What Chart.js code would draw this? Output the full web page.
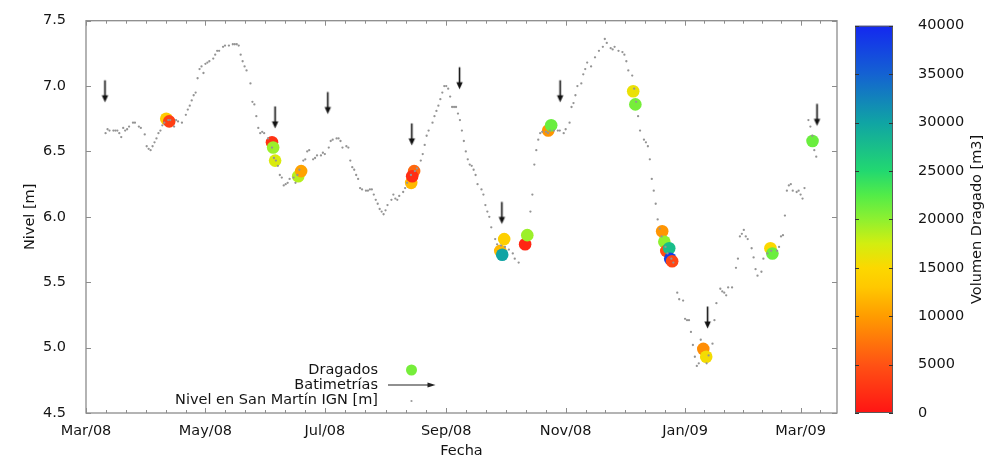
<!DOCTYPE html>
<html><head><meta charset="utf-8">
<script src="https://cdn.jsdelivr.net/npm/chart.js@4/dist/chart.umd.min.js"></script>
<style>
html,body{margin:0;padding:0;background:#fff;}
#wrap{position:relative;width:1006px;height:467px;overflow:hidden;}
#main{position:absolute;left:0;top:0;}
#cbar{position:absolute;left:840px;top:0;}
</style></head><body>
<div id="wrap"><canvas id="main" width="1006" height="467"></canvas><canvas id="cbar" width="166" height="467"></canvas></div>
<script>
// ---- DATA ----
// days counted from 1 Mar 2008
const levelDays = [10,11,12,14,15,16,17,18,19,20,21,22,24,25,27,28,30,31,32,33,34,35,36,37,38,39,40,42,43,45,46,47,49,51,52,53,54,55,56,57,58,59,60,61,62,63,65,66,67,68,70,71,73,75,76,77,78,79,80,81,82,84,85,86,87,88,89,90,91,93,95,96,97,98,99,100,101,102,103,104,106,107,108,109,111,112,113,114,116,117,118,120,121,122,124,125,126,128,129,130,131,133,134,135,136,137,138,139,140,141,143,144,145,146,147,148,149,150,151,152,153,154,156,157,158,159,160,162,163,164,166,168,169,171,172,173,174,175,177,178,179,180,181,182,183,184,185,186,187,188,189,190,191,192,193,194,195,196,197,198,199,200,202,203,204,205,206,207,209,210,212,214,216,218,219,221,227,228,229,230,231,232,233,235,236,237,239,241,242,244,245,247,248,249,250,251,253,254,255,256,258,260,262,264,265,266,268,269,270,272,274,275,276,277,279,280,281,282,283,285,286,287,288,289,290,291,292,293,294,296,297,299,300,302,303,305,306,307,308,309,310,311,312,313,314,317,318,320,321,322,324,325,326,327,328,330,332,333,334,335,336,337,338,340,341,342,343,345,346,348,350,353,354,355,356,357,358,359,360,361,363,364,365,366,367,369,370,371,372,373];
const levelValues = [6.64,6.67,6.66,6.66,6.66,6.66,6.64,6.61,6.68,6.66,6.67,6.69,6.72,6.72,6.69,6.68,6.63,6.54,6.52,6.51,6.54,6.57,6.60,6.64,6.66,6.70,6.72,6.74,6.74,6.69,6.74,6.73,6.72,6.78,6.82,6.85,6.89,6.93,6.95,7.06,7.13,7.15,7.10,7.17,7.18,7.19,7.21,7.24,7.27,7.27,7.30,7.31,7.31,7.32,7.32,7.32,7.31,7.24,7.19,7.15,7.12,7.02,6.88,6.86,6.77,6.68,6.64,6.65,6.64,6.60,6.53,6.45,6.43,6.39,6.32,6.30,6.24,6.25,6.26,6.29,6.30,6.26,6.32,6.36,6.43,6.44,6.50,6.51,6.44,6.45,6.47,6.47,6.49,6.48,6.53,6.58,6.59,6.60,6.60,6.58,6.53,6.54,6.53,6.43,6.38,6.36,6.32,6.29,6.22,6.21,6.20,6.20,6.21,6.21,6.17,6.13,6.10,6.06,6.04,6.02,6.05,6.09,6.13,6.17,6.14,6.13,6.16,6.19,6.22,6.26,6.32,6.35,6.37,6.43,6.48,6.55,6.62,6.66,6.72,6.77,6.81,6.85,6.90,6.95,7.00,7.00,6.98,6.92,6.84,6.84,6.84,6.79,6.74,6.66,6.58,6.50,6.44,6.40,6.39,6.36,6.32,6.25,6.21,6.17,6.09,6.04,6.00,5.92,5.83,5.79,5.78,5.77,5.75,5.72,5.68,5.65,6.04,6.17,6.40,6.51,6.59,6.64,6.65,6.65,6.64,6.66,6.66,6.66,6.66,6.64,6.67,6.72,6.84,6.87,6.93,7.00,7.02,7.09,7.13,7.18,7.15,7.22,7.27,7.30,7.36,7.33,7.29,7.28,7.30,7.27,7.26,7.24,7.19,7.12,7.08,6.98,6.88,6.77,6.66,6.59,6.57,6.54,6.44,6.29,6.20,6.10,5.98,5.91,5.85,5.77,5.72,5.68,5.65,5.42,5.37,5.36,5.22,5.21,5.21,5.12,5.02,4.93,4.86,4.88,5.06,4.88,4.94,5.03,5.21,5.34,5.45,5.43,5.42,5.40,5.46,5.46,5.61,5.68,5.85,5.87,5.90,5.85,5.83,5.76,5.69,5.60,5.55,5.58,5.68,5.72,5.74,5.74,5.77,5.85,5.86,6.01,6.20,6.24,6.25,6.20,6.19,6.20,6.17,6.14,6.22,6.74,6.69,6.62,6.51,6.46];

const dragDays    = [41, 42.5, 95, 95.6, 96.6, 108.4, 109.9, 166.1, 167.6, 166.6, 211.6, 212.6, 213.6, 224.3, 225.4, 236.1, 237.6, 279.5, 280.6, 294.3, 295.4, 296.4, 297.9, 298.4, 299.4, 315.3, 316.8, 349.6, 350.6, 371.1];
const dragLevels  = [6.75, 6.73, 6.57, 6.53, 6.43, 6.31, 6.35, 6.26, 6.35, 6.31, 5.74, 5.71, 5.83, 5.79, 5.86, 6.66, 6.70, 6.96, 6.86, 5.89, 5.81, 5.74, 5.76, 5.68, 5.66, 4.99, 4.93, 5.76, 5.72, 6.58];
const dragVolumes = [13500, 3500, 2500, 19500, 17000, 18500, 10500, 12000, 6500, 2000, 12000, 30000, 14000, 1500, 19500, 9500, 21500, 16000, 21000, 9500, 20000, 4500, 27500, 38000, 4000, 9000, 15500, 15000, 21500, 21500];

const batDays = [9.7, 96.6, 123.5, 166.4, 190.8, 212.4, 242.2, 317.5, 373.4];
const batTips = [6.88, 6.68, 6.79, 6.55, 6.98, 5.95, 6.88, 5.15, 6.70];

const xMajorDays   = [0, 61, 122, 184, 245, 306, 365];
const xMajorLabels = ['Mar/08','May/08','Jul/08','Sep/08','Nov/08','Jan/09','Mar/09'];
const xMax = 383.6;
const yTickValues = [4.5, 5.0, 5.5, 6.0, 6.5, 7.0, 7.5];

const cbMax = 40000;
const cbStep = 5000;
const cbStops = [[0,'#ff1414'],[5000,'#ff5214'],[10000,'#ff9c00'],[13000,'#ffc800'],[15000,'#fcd800'],[17500,'#d2ee10'],[20000,'#8ef030'],[22500,'#52ec48'],[25000,'#22d870'],[30000,'#10a4a4'],[35000,'#1462d2'],[40000,'#1428f0']];

// ---- helpers ----
const FONT = "'DejaVu Sans', sans-serif";
const FS = 14.5;
const TXT = '#141414';
Chart.defaults.font.family = FONT;
Chart.defaults.font.size = FS;
Chart.defaults.color = TXT;

function hex2rgb(h){return [parseInt(h.substr(1,2),16),parseInt(h.substr(3,2),16),parseInt(h.substr(5,2),16)];}
function volColor(v){
  for(let i=0;i<cbStops.length-1;i++){
    const [v0,c0]=cbStops[i],[v1,c1]=cbStops[i+1];
    if(v<=v1){const t=(v-v0)/(v1-v0);const a=hex2rgb(c0),b=hex2rgb(c1);
      return 'rgb('+a.map((x,k)=>Math.round(x+(b[k]-x)*t)).join(',')+')';}
  }
  return cbStops[cbStops.length-1][1];
}

// x tick values: majors + 5 minor subdivisions between
const xTickValues = [];
for(let i=0;i<xMajorDays.length;i++){
  xTickValues.push(xMajorDays[i]);
  if(i<xMajorDays.length-1){
    const s=(xMajorDays[i+1]-xMajorDays[i])/6;
    for(let k=1;k<6;k++) xTickValues.push(xMajorDays[i]+s*k);
  }
}
xTickValues.push(365 + 59/6);

// arrow image (tip at center)
function makeArrow(){
  const c=document.createElement('canvas'); c.width=9; c.height=46;
  const g=c.getContext('2d');
  g.strokeStyle='#111'; g.lineWidth=1.6;
  g.beginPath(); g.moveTo(4.5,1.5); g.lineTo(4.5,18); g.stroke();
  g.fillStyle='#111'; g.beginPath(); g.moveTo(1.3,16.5); g.lineTo(7.7,16.5); g.lineTo(4.5,23.5); g.closePath(); g.fill();
  return c;
}
const arrowImg = makeArrow();

const framePlugin = {
  id:'frame',
  beforeDatasetsDraw(chart){
    const {ctx, chartArea:a, scales:{x,y}} = chart;
    ctx.save();
    ctx.strokeStyle='#8c8c8c'; ctx.lineWidth=1.3;
    ctx.strokeRect(a.left, a.top, a.right-a.left, a.bottom-a.top);
    ctx.lineWidth=1;
    ctx.beginPath();
    x.ticks.forEach(t=>{
      const px=Math.round(x.getPixelForValue(t.value))+0.5;
      const len = xMajorDays.includes(t.value)?5:3;
      ctx.moveTo(px,a.bottom); ctx.lineTo(px,a.bottom-len);
      ctx.moveTo(px,a.top); ctx.lineTo(px,a.top+len);
    });
    y.ticks.forEach(t=>{
      const py=Math.round(y.getPixelForValue(t.value))+0.5;
      ctx.moveTo(a.left,py); ctx.lineTo(a.left+5,py);
      ctx.moveTo(a.right,py); ctx.lineTo(a.right-5,py);
    });
    ctx.stroke();
    ctx.restore();
  },
  afterDraw(chart){
    const {ctx, chartArea:a} = chart;
    ctx.save();
    ctx.font = FS+'px '+FONT; ctx.fillStyle=TXT; ctx.textAlign='right'; ctx.textBaseline='middle';
    const tx = a.left+292, sx = a.left+325.5;
    const r1 = a.bottom-43, r2 = a.bottom-28, r3 = a.bottom-12.5;
    ctx.fillText('Dragados', tx, r1);
    ctx.fillText('Batimetrías', tx, r2);
    ctx.fillText('Nivel en San Martín IGN [m]', tx, r3);
    ctx.fillStyle = volColor(21000);
    ctx.beginPath(); ctx.arc(sx, r1, 5.5, 0, Math.PI*2); ctx.fill();
    ctx.strokeStyle='#222'; ctx.lineWidth=1.2;
    ctx.beginPath(); ctx.moveTo(sx-23.5, r2); ctx.lineTo(sx+20, r2); ctx.stroke();
    ctx.fillStyle='#222'; ctx.beginPath(); ctx.moveTo(sx+16,r2-2.5); ctx.lineTo(sx+24,r2); ctx.lineTo(sx+16,r2+2.5); ctx.closePath(); ctx.fill();
    ctx.fillStyle='#9a9a9a'; ctx.beginPath(); ctx.arc(sx, r3+0.5, 1.1, 0, Math.PI*2); ctx.fill();
    ctx.restore();
  }
};

new Chart(document.getElementById('main'), {
  type:'scatter',
  data:{datasets:[
    {label:'Nivel en San Martín IGN [m]', data: levelDays.map((d,i)=>({x:d,y:levelValues[i]})),
     pointRadius:1.15, pointBackgroundColor:'#949494', pointBorderWidth:0, order:0},
    {label:'Dragados', data: dragDays.map((d,i)=>({x:d,y:dragLevels[i]})),
     pointRadius:6.3, pointBackgroundColor: dragVolumes.map(volColor), pointBorderWidth:0, order:1},
    {label:'Batimetrías', data: batDays.map((d,i)=>({x:d,y:batTips[i]})),
     pointStyle: arrowImg, pointRadius:5, order:2}
  ]},
  options:{
    responsive:false, animation:false, events:[],
    layout:{padding:{left:0,top:16,right:169,bottom:0}},
    plugins:{legend:{display:false}, tooltip:{enabled:false}},
    scales:{
      x:{type:'linear', min:0, max:xMax,
        afterBuildTicks(s){ s.ticks = xTickValues.map(v=>({value:v})); },
        afterFit(s){ s.height = 54; },
        grid:{display:false}, border:{display:false},
        ticks:{autoSkip:false, maxRotation:0, padding:2, color:TXT,
          callback(v){ const i=xMajorDays.indexOf(v); return i>=0?xMajorLabels[i]:''; }},
        title:{display:true, text:'Fecha', color:TXT, font:{size:FS}, padding:{top:0,bottom:7}}
      },
      y:{type:'linear', min:4.5, max:7.5,
        afterBuildTicks(s){ s.ticks = yTickValues.map(v=>({value:v})); },
        afterFit(s){ s.width = 86; },
        grid:{display:false}, border:{display:false},
        ticks:{padding:12, color:TXT, callback(v){ return v.toFixed(1); }},
        title:{display:true, text:'Nivel [m]', color:TXT, font:{size:FS}, padding:{top:22,bottom:0}}
      }
    }
  },
  plugins:[framePlugin]
});

// ---- colour bar ----
const cbTicks = []; for(let v=0; v<=cbMax; v+=cbStep) cbTicks.push(v);
const cbPlugin = {
  id:'cbframe',
  afterDraw(chart){
    const {ctx, chartArea:a, scales:{y}} = chart;
    ctx.save();
    ctx.strokeStyle='#5a5a5a'; ctx.lineWidth=1;
    ctx.strokeRect(a.left+0.5, a.top+0.5, a.right-a.left-1, a.bottom-a.top-1);
    ctx.strokeStyle='#333';
    ctx.beginPath();
    y.ticks.forEach(t=>{
      const py=Math.round(y.getPixelForValue(t.value))+0.5;
      ctx.moveTo(a.left,py); ctx.lineTo(a.left+4,py);
      ctx.moveTo(a.right,py); ctx.lineTo(a.right-4,py);
    });
    ctx.stroke();
    ctx.translate(137, (a.top+a.bottom)/2);
    ctx.rotate(-Math.PI/2);
    ctx.font = FS+'px '+FONT; ctx.fillStyle=TXT; ctx.textAlign='center'; ctx.textBaseline='middle';
    ctx.fillText('Volumen Dragado [m3]', 0, 0);
    ctx.restore();
  }
};
new Chart(document.getElementById('cbar'), {
  type:'bar',
  data:{labels:[''], datasets:[{data:[cbMax], barPercentage:1, categoryPercentage:1, borderWidth:0,
    backgroundColor(c){
      const ch=c.chart, a=ch.chartArea; if(!a) return '#fff';
      const ys=ch.scales.y;
      const g=ch.ctx.createLinearGradient(0, ys.getPixelForValue(0), 0, ys.getPixelForValue(cbMax));
      cbStops.forEach(([v,col])=>g.addColorStop(v/cbMax,col));
      return g;
    }}]},
  options:{
    responsive:false, animation:false, events:[],
    layout:{padding:{left:15,top:16,right:0,bottom:54}},
    plugins:{legend:{display:false}, tooltip:{enabled:false}},
    scales:{
      x:{display:false},
      y:{position:'right', min:0, max:cbMax,
        afterBuildTicks(s){ s.ticks = cbTicks.map(v=>({value:v})); },
        afterFit(s){ s.width = 113; },
        grid:{display:false}, border:{display:false},
        ticks:{padding:17, color:TXT, callback(v){ return String(v); }}
      }
    }
  },
  plugins:[cbPlugin]
});
</script>
</body></html>
